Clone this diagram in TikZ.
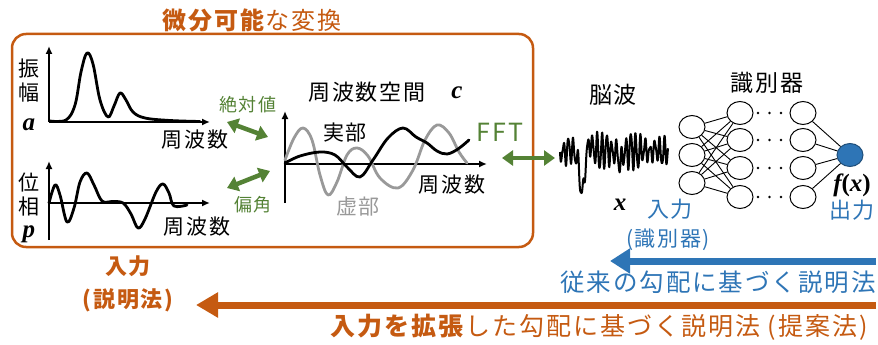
\documentclass[tikz,border=0pt]{standalone}
\usepackage{fontspec}
\setmainfont{Noto Sans CJK JP}[LetterSpace=8]
\newfontfamily\lsf{Liberation Serif}
\usetikzlibrary{arrows.meta,shapes.geometric}
\definecolor{orng}{HTML}{C55A11}
\definecolor{grn}{HTML}{548235}
\definecolor{blu}{HTML}{2E75B6}
\definecolor{bludk}{HTML}{1F4E79}
\definecolor{gry}{HTML}{999999}
\newcommand{\fsz}[1]{\fontsize{#1}{#1}\selectfont}
\newcommand{\bv}[1]{{\lsf\bfseries\itshape #1}}
\tikzset{
  axis/.style={line width=2.4pt, -{Latex[length=8pt,width=7pt]}},
  curve/.style={line width=2.8pt, line join=round, line cap=round},
  garrow/.style={grn, line width=4.5pt, {Triangle[length=11pt,width=15pt]}-{Triangle[length=11pt,width=15pt]}},
  lbl/.style={inner sep=0pt, font=\fsz{21}},
  mv/.style={inner sep=0pt, font=\fsz{25}},
  neuron/.style={draw, line width=1pt, ellipse, minimum width=26pt, minimum height=23pt, inner sep=0pt},
  conn/.style={line width=0.9pt},
}
\begin{document}
\begin{tikzpicture}[x=1pt,y=-1pt]
\useasboundingbox (0,0) rectangle (878,345);
% title and box
\node[orng, inner sep=0pt] (title) at (252,20) {\fsz{24}\textbf{微分可能}な変換};
\draw[orng, line width=2.5pt, rounded corners=14pt] (12,34) rectangle (533,247);

% amplitude plot
\draw[axis] (49,122) -- (49,46);
\draw[axis] (49,122) -- (210,122);
\draw[curve] plot[smooth, tension=0.6] coordinates {(50,121) (66,120) (75,105) (81,72) (87,53) (93,64) (100,100) (108,117) (114,106) (120,93) (126,100) (133,112) (145,118) (170,120.5) (200,121.5)};
\node[lbl] (amp1) at (29,69) {振};
\node[lbl] (amp2) at (29,93) {幅};
\node[mv] (ampa) at (29,125) {\bv{a}};
\node[lbl] (f1) at (195,140) {周波数};

% phase plot
\draw[axis] (49,240) -- (49,161);
\draw[axis] (49,203) -- (210,203);
\draw[curve] plot[smooth, tension=0.6] coordinates {(49,203) (55,185) (60,195) (67,222) (74,208) (80,182) (87,173) (94,185) (102,201) (112,201.5) (123,203) (131,214) (138,228) (145,219) (156,192) (163,184) (169,193) (174,206) (187,205)};
\node[lbl] (ph1) at (29,183) {位};
\node[lbl] (ph2) at (29,207) {相};
\node[mv] (php) at (29,234) {\bv{p}};
\node[lbl] (f2) at (197,227) {周波数};

% green arrows
\node[lbl, grn, font=\fsz{18}] (abs) at (248,105) {絶対値};
\node[lbl, grn, font=\fsz{18}] (arg) at (253,205) {偏角};
\coordinate (g1a) at (227,122); \coordinate (g1b) at (268,137);
\coordinate (g2a) at (227,188); \coordinate (g2b) at (270,171);
\draw[garrow] (g1a) -- (g1b);
\draw[garrow] (g2a) -- (g2b);

% frequency space plot
\node[lbl, font=\fsz{22}] (fs) at (367,92) {周波数空間};
\node[mv] (fsc) at (457,93) {\bv{c}};
\draw[axis] (285,203) -- (285,111);
\draw[axis] (285,164) -- (487,164);
\draw[curve, gry] plot[smooth, tension=0.6] coordinates {(285,160) (294,138) (303,128) (312,140) (320,175) (328,195) (337,182) (347,155) (357,148) (368,156) (380,178) (398,188) (413,170) (425,140) (437,125) (449,133) (459,152) (467,163)};
\draw[curve] plot[smooth, tension=0.6] coordinates {(285,163) (300,156) (320,152) (335,155) (347,167) (360,177) (373,160) (388,138) (403,128) (416,137) (427,143) (437,151) (447,154) (458,149) (469,140)};
\node[lbl] (re) at (345,133) {実部};
\node[lbl, gry] (im) at (358,207) {虚部};
\node[lbl] (f3) at (452,185) {周波数};

% FFT
\node[lbl, grn, font=\fsz{25}] (fft) at (500,132) {FFT};
\coordinate (fa) at (502,158); \coordinate (fb) at (555,158);
\draw[garrow] (fa) -- (fb);

% EEG
\node[lbl, font=\fsz{23}] (eeg) at (613,95) {脳波};
\draw[line width=2pt, line join=round] plot[domain=0:108, samples=400] ({560+\x},{151 + (8+6*sin(\x*1.5))*(1+0.35*sin(\x*11))*sin(\x*75) + 3*sin(\x*133+20) + 2*sin(\x*29) + 44*exp(-((\x-22)/3.4)^2) - 10*exp(-((\x-29)/2.5)^2) + 18*exp(-((\x-60)/1.8)^2)});
\node[mv] (xl) at (620,205) {\bv{x}};

% classifier network
\node[lbl, font=\fsz{23}] (clf) at (767,83) {識別器};
\foreach \i/\y in {1/127,2/155,3/183} \node[neuron] (a\i) at (692,\y) {};
\foreach \i/\y in {1/113,2/140,3/168,4/197} {
  \node[neuron] (b\i) at (740,\y) {};
  \node[neuron] (c\i) at (803,\y) {};
  \foreach \k in {0,1,2} \fill (758+\k*11.5,\y) circle (1.3pt);
}
\node[neuron, fill=blu, draw=bludk] (out) at (850,155) {};
\foreach \i in {1,2,3} \foreach \j in {1,2,3,4} \draw[conn] (a\i) -- (b\j);
\foreach \j in {1,2,3,4} \draw[conn] (c\j) -- (out);
\node[mv] (fx) at (852,185) {\bv{f}{\lsf\bfseries(}\bv{x}{\lsf\bfseries)}};
\node[lbl, blu, font=\fsz{22}] (outl) at (852,210) {出力};
\node[lbl, blu, font=\fsz{22}] (inl) at (670,209) {入力};
\node[lbl, blu, font=\fsz{21}] (inl2) at (668,240) {(識別器)};

% blue arrow
\coordinate (bs) at (876,261); \coordinate (be) at (610,261);
\draw[blu, line width=7pt, -{Triangle[length=20pt,width=24pt]}] (bs) -- (be);
\node[blu, inner sep=0pt, anchor=east, font=\fsz{24.5}] (conv) at (876,282) {従来の勾配に基づく説明法};

% orange arrow
\coordinate (os) at (876,305); \coordinate (oe) at (196,305);
\draw[orng, line width=7pt, -{Triangle[length=22pt,width=24pt]}] (os) -- (oe);
\node[orng, inner sep=0pt, anchor=east, font=\fsz{25}] (prop) at (868,327) {\textbf{入力を拡張}した勾配に基づく説明法 (提案法)};
\node[orng, inner sep=0pt, font=\fsz{22}\bfseries] (inex) at (128,266) {入力};
\node[orng, inner sep=0pt, font=\fsz{22}\bfseries] (inex2) at (128,300) {(説明法)};
\end{tikzpicture}
\end{document}
